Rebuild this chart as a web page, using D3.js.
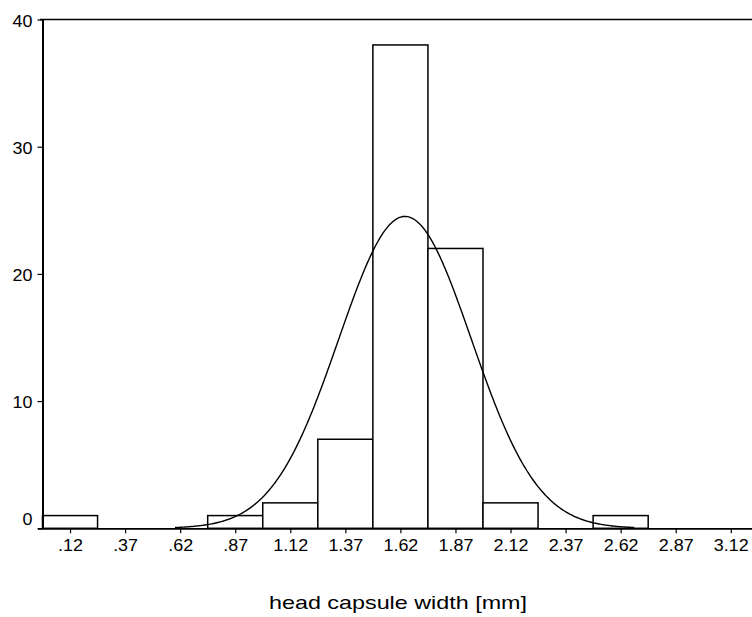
<!DOCTYPE html>
<html>
<head>
<meta charset="utf-8">
<script src="https://cdn.jsdelivr.net/npm/d3@7"></script>
<style>
  body { margin: 0; background: #fff; }
  svg { display: block; }
  text { font-family: "Liberation Sans", Arial, sans-serif; fill: #000; }
  .tick text { font-size: 16px; }
</style>
</head>
<body>
<div id="graph"></div>
<script>
// histogram bins (midpoints as labelled on the axis) and counts
const binLabels = [".12", ".37", ".62", ".87", "1.12", "1.37", "1.62", "1.87", "2.12", "2.37", "2.62", "2.87", "3.12"];
const binStarts = [0, 0.25, 0.5, 0.75, 1.0, 1.25, 1.5, 1.75, 2.0, 2.25, 2.5, 2.75, 3.0];
const counts = [1, 0, 0, 1, 2, 7, 38, 22, 2, 0, 1, 0, 0];
const yTicks = [0, 10, 20, 30, 40];

// fitted normal curve parameters
const curveMean = 1.646;
const curveSd = 0.301;
const binWidth = 0.25;

const width = 752, height = 617;
const stretch = 1.12; // labels in the original are slightly wide

const x = d3.scaleLinear().domain([0, 3.25]).range([42.5, 758.3]);
const y = d3.scaleLinear().domain([0, 40]).range([528.3, 19.5]);

const svg = d3.select("#graph").append("svg")
	.attr("width", width)
	.attr("height", height);

// bars
svg.append("g").selectAll("rect")
	.data(counts.map((c, i) => ({start: binStarts[i], count: c})).filter(d => d.count > 0))
	.join("rect")
		.attr("x", d => x(d.start))
		.attr("y", d => y(d.count))
		.attr("width", d => x(d.start + binWidth) - x(d.start))
		.attr("height", d => y(0) - y(d.count))
		.attr("fill", "#fff")
		.attr("stroke", "#000")
		.attr("stroke-width", 1.5);

// normal curve scaled to counts
const n = d3.sum(counts);
const density = v => n * binWidth / (curveSd * Math.sqrt(2 * Math.PI)) *
	Math.exp(-0.5 * Math.pow((v - curveMean) / curveSd, 2));
const curveXs = d3.range(curveMean - 3.47 * curveSd, curveMean + 3.47 * curveSd, 0.005);
const line = d3.line()
	.x(d => x(d))
	.y(d => y(density(d)));
svg.append("path")
	.attr("fill", "none")
	.attr("stroke", "#000")
	.attr("stroke-width", 1.4)
	.attr("d", line(curveXs));

// top frame line
svg.append("line")
	.attr("x1", 40).attr("x2", width)
	.attr("y1", y(40)).attr("y2", y(40))
	.attr("stroke", "#000").attr("stroke-width", 1.6);

// x axis
const xAxis = d3.axisBottom(x)
	.tickValues(binStarts.map(s => s + binWidth / 2))
	.tickFormat((d, i) => binLabels[i])
	.tickSize(5)
	.tickSizeOuter(0);
svg.append("g")
	.attr("transform", `translate(0,${y(0)})`)
	.call(xAxis)
	.attr("font-size", null)
	.attr("font-family", null)
	.call(g => g.select(".domain").attr("d", `M38,0.5H${width}`).attr("stroke-width", 1.8))
	.call(g => g.selectAll(".tick line").attr("stroke-width", 1.2))
	.call(g => g.selectAll(".tick text")
		.attr("y", 11)
		.attr("transform", `scale(${stretch},1)`));

// y axis
const yAxis = d3.axisLeft(y)
	.tickValues(yTicks)
	.tickSize(5)
	.tickSizeOuter(0);
svg.append("g")
	.attr("transform", `translate(${x(0)},0)`)
	.call(yAxis)
	.attr("font-size", null)
	.attr("font-family", null)
	.call(g => g.select(".domain").attr("stroke-width", 2))
	.call(g => g.selectAll(".tick line").attr("stroke-width", 1.2))
	.call(g => g.selectAll(".tick text")
		.attr("x", -10 / stretch)
		.attr("transform", `scale(${stretch},1)`)
		.attr("dy", d => d === 0 ? "-0.22em" : "0.42em"));

// axis title
svg.append("text")
	.attr("x", 398)
	.attr("y", 609)
	.attr("text-anchor", "middle")
	.style("font-size", "19px")
	.attr("textLength", 258)
	.attr("lengthAdjust", "spacingAndGlyphs")
	.text("head capsule width [mm]");
</script>
</body>
</html>
